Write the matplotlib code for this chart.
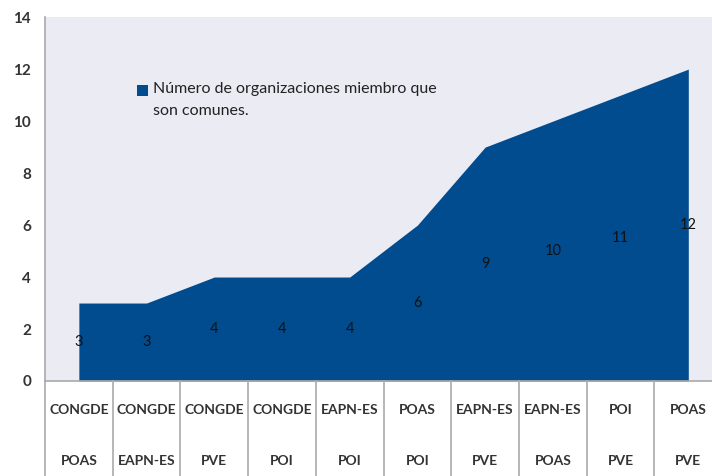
import matplotlib.pyplot as plt
import matplotlib.transforms as mtransforms
from matplotlib.patches import Rectangle

plt.rcParams['font.family'] = ['Lato', 'DejaVu Sans']

# pares de organizaciones y numero de miembros comunes
top_labels = ['CONGDE', 'CONGDE', 'CONGDE', 'CONGDE', 'EAPN-ES',
              'POAS', 'EAPN-ES', 'EAPN-ES', 'POI', 'POAS']
bottom_labels = ['POAS', 'EAPN-ES', 'PVE', 'POI', 'POI',
                 'POI', 'PVE', 'POAS', 'PVE', 'PVE']
values = [3, 3, 4, 4, 4, 6, 9, 10, 11, 12]
legend_label = 'Número de organizaciones miembro que\nson comunes.'

blue = '#004c8f'
x = list(range(len(values)))

fig = plt.figure(figsize=(7.12, 4.76), dpi=100)
ax = fig.add_axes([0.0632, 0.1996, 0.9368, 0.7644])
ax.set_facecolor('#ebebf4')

ax.fill_between(x, values, 0, color=blue, linewidth=0)

# etiquetas de datos a media altura
for i, v in enumerate(values):
    ax.text(i, v / 2, str(v), ha='center', va='center', fontsize=10.5, color='#111111')

ax.set_xlim(-0.5, 9.35)
ax.set_ylim(0, 14)
ax.set_yticks(range(0, 15, 2))
ax.set_yticklabels([str(t) for t in range(0, 15, 2)], fontsize=11,
                   fontweight='bold', color='#333333')
ax.tick_params(axis='y', length=0, pad=10)
ax.set_xticks([])

for s in ['top', 'right', 'bottom']:
    ax.spines[s].set_visible(False)
ax.spines['left'].set_color('#aaaaaa')
ax.spines['left'].set_linewidth(1.2)

# tabla de categorias debajo del eje
trans = mtransforms.blended_transform_factory(ax.transData, ax.transAxes)
ax.plot([-0.5, 9.35], [0, 0], transform=trans, color='#aaaaaa', lw=1.2, clip_on=False)
for i in range(len(values) + 1):
    ax.plot([i - 0.5, i - 0.5], [0, -0.27], transform=trans, color='#aaaaaa',
            lw=1.2, clip_on=False)
for i in x:
    ax.text(i, -0.08, top_labels[i], transform=trans, ha='center', va='center',
            fontsize=10, fontweight='bold', color='#333333')
    ax.text(i, -0.22, bottom_labels[i], transform=trans, ha='center', va='center',
            fontsize=10, fontweight='bold', color='#333333')

# leyenda
ax.add_patch(Rectangle((0.138, 0.783), 0.0165, 0.030, transform=ax.transAxes,
                       facecolor=blue, edgecolor='none'))
ax.text(0.162, 0.822, legend_label, transform=ax.transAxes, ha='left', va='top',
        fontsize=11.5, linespacing=1.75, color='#222222')

fig.savefig('out.png', dpi=100)
